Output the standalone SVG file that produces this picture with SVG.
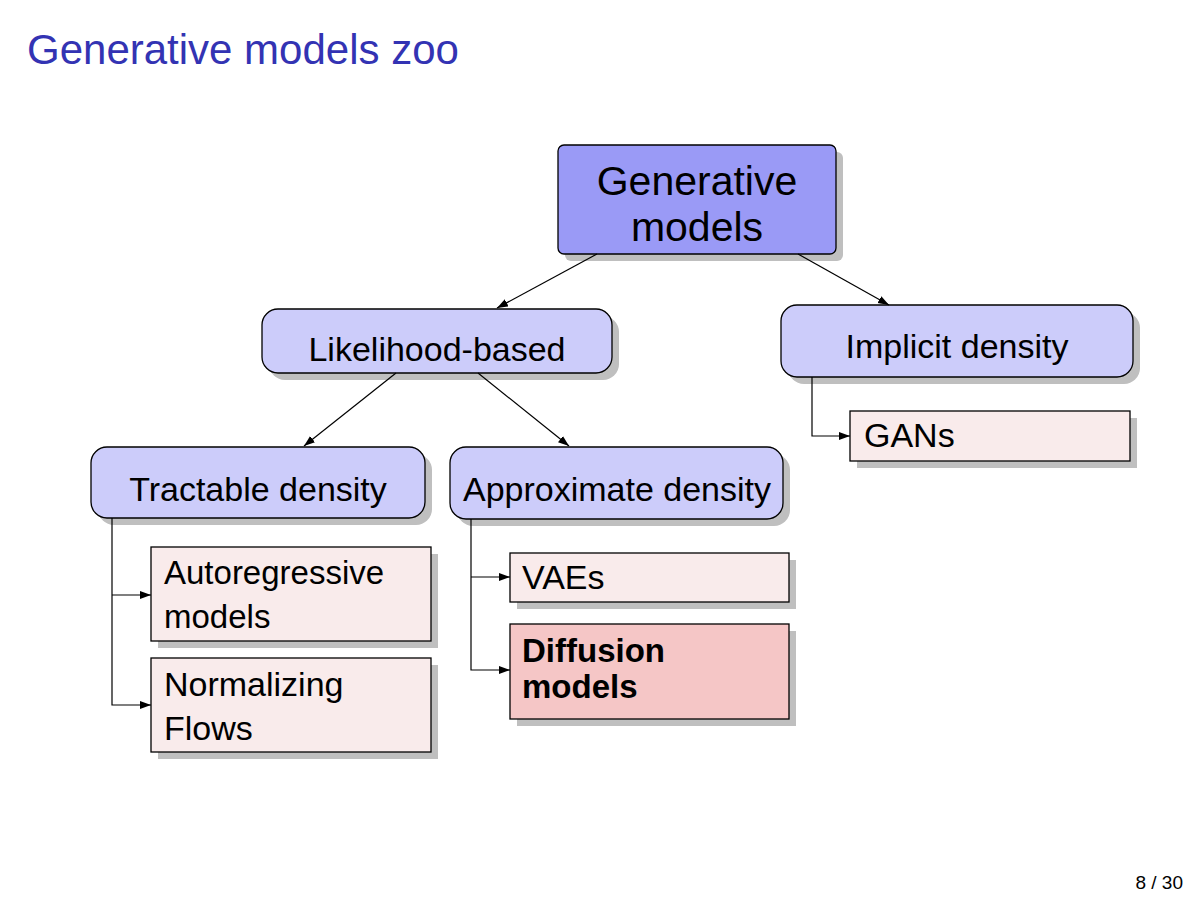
<svg xmlns="http://www.w3.org/2000/svg" width="1198" height="898" viewBox="0 0 1198 898">
<style>
text{font-family:"Liberation Sans",Arial,sans-serif;fill:#000}
.shadow{fill:#bfbfbf;stroke:none}
.root{fill:#9a9af6;stroke:#000;stroke-width:1.3}
.mid{fill:#ccccfa;stroke:#000;stroke-width:1.3}
.leaf{fill:#f9ebeb;stroke:#000;stroke-width:1.3}
.hot{fill:#f5c6c6;stroke:#000;stroke-width:1.3}
.t34{font-size:34px}
.t33{font-size:33px}
.edge{fill:none;stroke:#000;stroke-width:1.2}
</style>
<defs>
<marker id="arr" markerUnits="userSpaceOnUse" markerWidth="12" markerHeight="9" refX="11" refY="4" orient="auto">
<path d="M0,0 L11,4 L0,8 z" fill="#000"/>
</marker>
</defs>
<rect width="1198" height="898" fill="#fff"/>
<text x="27" y="64" font-size="42" style="fill:#3333b3">Generative models zoo</text>

<g id="root">
<rect class="shadow" x="565" y="152" width="278" height="109" rx="6"/>
<rect class="root" x="558" y="145" width="278" height="109" rx="6"/>
<text x="697" y="195" font-size="41" text-anchor="middle">Generative</text>
<text x="697" y="241" font-size="41" text-anchor="middle">models</text>
</g>

<g id="likelihood">
<rect class="shadow" x="269" y="316" width="350" height="64" rx="16"/>
<rect class="mid" x="262" y="309" width="350" height="64" rx="16"/>
<text class="t34" x="437" y="361" text-anchor="middle">Likelihood-based</text>
</g>

<g id="implicit">
<rect class="shadow" x="788" y="312" width="352" height="72" rx="16"/>
<rect class="mid" x="781" y="305" width="352" height="72" rx="16"/>
<text class="t34" x="957" y="358" text-anchor="middle">Implicit density</text>
</g>

<g id="gans">
<rect class="shadow" x="857" y="418" width="280" height="50"/>
<rect class="leaf" x="850" y="411" width="280" height="50"/>
<text class="t34" x="864" y="447">GANs</text>
</g>

<g id="tractable">
<rect class="shadow" x="98" y="454" width="334" height="71" rx="16"/>
<rect class="mid" x="91" y="447" width="334" height="71" rx="16"/>
<text class="t34" x="258" y="501" text-anchor="middle">Tractable density</text>
</g>

<g id="approximate">
<rect class="shadow" x="457" y="454" width="333" height="72" rx="16"/>
<rect class="mid" x="450" y="447" width="333" height="72" rx="16"/>
<text class="t34" x="617" y="501" text-anchor="middle">Approximate density</text>
</g>

<g id="autoregressive">
<rect class="shadow" x="158" y="554" width="280" height="94"/>
<rect class="leaf" x="151" y="547" width="280" height="94"/>
<text class="t33" x="164" y="584">Autoregressive</text>
<text class="t33" x="164" y="628">models</text>
</g>

<g id="normalizing">
<rect class="shadow" x="158" y="665" width="280" height="94"/>
<rect class="leaf" x="151" y="658" width="280" height="94"/>
<text class="t34" x="164" y="696">Normalizing</text>
<text class="t34" x="164" y="740">Flows</text>
</g>

<g id="vaes">
<rect class="shadow" x="517" y="560" width="279" height="49"/>
<rect class="leaf" x="510" y="553" width="279" height="49"/>
<text class="t34" x="522" y="589">VAEs</text>
</g>

<g id="diffusion">
<rect class="shadow" x="517" y="631" width="279" height="95"/>
<rect class="hot" x="510" y="624" width="279" height="95"/>
<text class="t33" x="522" y="662" font-weight="bold">Diffusion</text>
<text class="t33" x="522" y="698" font-weight="bold">models</text>
</g>

<g id="connectors">
<line class="edge" x1="597" y1="254" x2="497" y2="308" marker-end="url(#arr)"/>
<line class="edge" x1="798" y1="254" x2="889" y2="305" marker-end="url(#arr)"/>
<line class="edge" x1="396" y1="373" x2="304" y2="446" marker-end="url(#arr)"/>
<line class="edge" x1="478" y1="373" x2="569" y2="446" marker-end="url(#arr)"/>
<path class="edge" d="M812,377 V436 H850" marker-end="url(#arr)"/>
<path class="edge" d="M112,518 V705 H151" marker-end="url(#arr)"/>
<path class="edge" d="M112,595 H151" marker-end="url(#arr)"/>
<path class="edge" d="M471,519 V670 H510" marker-end="url(#arr)"/>
<path class="edge" d="M471,577 H510" marker-end="url(#arr)"/>
</g>

<text x="1183" y="889" font-size="19" text-anchor="end">8 / 30</text>
</svg>
